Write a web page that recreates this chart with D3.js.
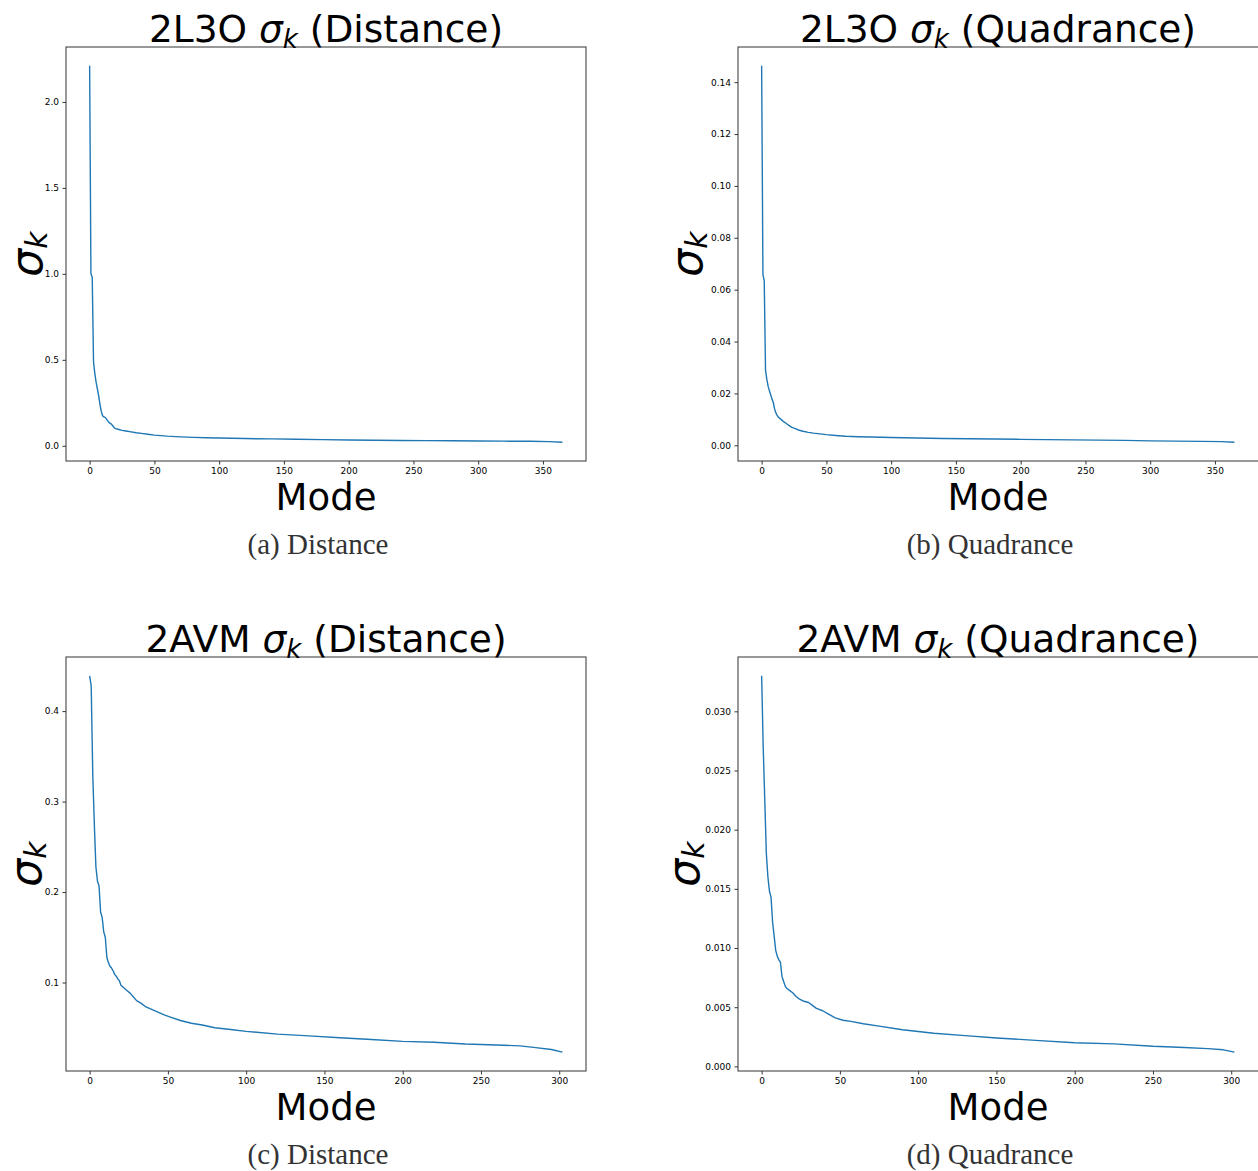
<!DOCTYPE html>
<html>
<head>
<meta charset="utf-8">
<script src="https://cdn.jsdelivr.net/npm/d3@7"></script>
<style>
  html, body { margin: 0; padding: 0; background: #fff; }
  svg { display: block; }
  .tick text { font-family: "DejaVu Sans", sans-serif; font-size: 9px; fill: #000; }
  .tick line { stroke: #000; stroke-width: 0.8; }
</style>
</head>
<body>
<svg id="chart" width="1258" height="1171"></svg>
<script>
// ---------- data ----------
const modesA = [0,1,2,3,4,5,6,7,8,9,10,11,12,13,14,15,16,17,18,19,20,22,25,28,32,36,40,45,50,55,60,70,80,90,100,120,140,160,180,200,220,240,260,280,300,320,340,355,365];
const valsA  = [2.21,1.00,0.98,0.49,0.42,0.37,0.33,0.29,0.24,0.20,0.175,0.168,0.165,0.155,0.145,0.135,0.13,0.125,0.115,0.105,0.100,0.096,0.090,0.086,0.081,0.076,0.072,0.067,0.062,0.059,0.056,0.052,0.049,0.047,0.045,0.042,0.040,0.038,0.036,0.034,0.032,0.031,0.030,0.029,0.028,0.027,0.026,0.024,0.021];

const modesB = [0,1,2,3,4,5,6,7,8,9,10,11,12,13,15,17,19,21,23,26,29,32,36,40,45,50,57,65,75,85,100,120,140,160,180,200,220,240,260,280,300,320,340,355,365];
const valsB  = [0.1463,0.0658,0.0635,0.0290,0.0255,0.0228,0.0210,0.0195,0.0178,0.0165,0.0140,0.0125,0.0115,0.0108,0.0100,0.0091,0.0084,0.0077,0.0070,0.0064,0.0058,0.0054,0.0050,0.0047,0.0044,0.0041,0.0038,0.0035,0.0033,0.0032,0.0030,0.0028,0.0026,0.0025,0.0024,0.0023,0.0022,0.0021,0.0020,0.0019,0.0017,0.0016,0.0015,0.0014,0.0012];

const modesC = [0,1,2,3,4,5,6,7,8,9,10,11,12,13,14,15,16,17,18,19,20,22,24,26,28,30,33,36,40,44,48,53,58,65,72,80,90,100,120,140,160,180,200,220,240,260,275,285,295,302];
const valsC  = [0.439,0.428,0.33,0.275,0.228,0.212,0.207,0.178,0.172,0.156,0.150,0.128,0.122,0.118,0.116,0.113,0.109,0.107,0.104,0.102,0.097,0.094,0.091,0.088,0.084,0.080,0.077,0.073,0.070,0.067,0.064,0.061,0.058,0.055,0.053,0.050,0.048,0.046,0.043,0.041,0.039,0.037,0.035,0.034,0.032,0.031,0.030,0.028,0.026,0.023];

const modesD = [0,1,2,3,4,5,6,7,8,9,10,11,12,13,14,15,16,18,20,22,24,27,30,32,35,39,43,47,52,57,65,75,90,110,130,150,175,200,225,250,270,285,295,302];
const valsD  = [0.0330,0.0270,0.0225,0.0180,0.0160,0.0148,0.0143,0.0122,0.0110,0.0098,0.0093,0.0090,0.0088,0.0076,0.0072,0.0068,0.0066,0.0064,0.0062,0.0059,0.0057,0.0055,0.0054,0.0052,0.0049,0.0047,0.0044,0.0041,0.0039,0.0038,0.0036,0.0034,0.0031,0.0028,0.0026,0.0024,0.0022,0.0020,0.0019,0.0017,0.0016,0.0015,0.0014,0.0012];

const xTicksTop    = [0,50,100,150,200,250,300,350];
const xTicksBottom = [0,50,100,150,200,250,300];
const yTicksA = [0.0,0.5,1.0,1.5,2.0];
const yTicksB = [0.00,0.02,0.04,0.06,0.08,0.10,0.12,0.14];
const yTicksC = [0.1,0.2,0.3,0.4];
const yTicksD = [0.000,0.005,0.010,0.015,0.020,0.025,0.030];

const titlesPrefix = ["2L3O ", "2L3O ", "2AVM ", "2AVM "];
const titlesSuffix = [" (Distance)", " (Quadrance)", " (Distance)", " (Quadrance)"];
const captions = ["(a) Distance", "(b) Quadrance", "(c) Distance", "(d) Quadrance"];
const xLabel = "Mode";

// ---------- layout ----------
const svg = d3.select("#chart");
svg.append("rect").attr("width", 1258).attr("height", 1171).attr("fill", "#fff");

const panels = [
  {modes: modesA, vals: valsA, xt: xTicksTop,    yt: yTicksA, fmt: d3.format(".1f"), x0: 66,  y0: 47,  yl: 42},
  {modes: modesB, vals: valsB, xt: xTicksTop,    yt: yTicksB, fmt: d3.format(".2f"), x0: 738, y0: 47,  yl: 702},
  {modes: modesC, vals: valsC, xt: xTicksBottom, yt: yTicksC, fmt: d3.format(".1f"), x0: 66,  y0: 657, yl: 41},
  {modes: modesD, vals: valsD, xt: xTicksBottom, yt: yTicksD, fmt: d3.format(".3f"), x0: 738, y0: 657, yl: 699}
];
const W = 520, H = 414;

function padded(arr) {
  const [lo, hi] = d3.extent(arr);
  const m = (hi - lo) * 0.05;
  return [lo - m, hi + m];
}

panels.forEach((p, i) => {
  const g = svg.append("g");
  const x = d3.scaleLinear().domain(padded(p.modes)).range([p.x0, p.x0 + W]);
  const y = d3.scaleLinear().domain(padded(p.vals)).range([p.y0 + H, p.y0]);

  // line
  const pts = p.modes.map((m, k) => [m, p.vals[k]]);
  g.append("path")
    .datum(pts)
    .attr("fill", "none")
    .attr("stroke", "#1f77b4")
    .attr("stroke-width", 1.4)
    .attr("stroke-linejoin", "round")
    .attr("d", d3.line().x(d => x(d[0])).y(d => y(d[1])));

  // axes
  const xa = g.append("g").attr("transform", `translate(0,${p.y0 + H})`)
    .call(d3.axisBottom(x).tickValues(p.xt).tickSize(3.5).tickPadding(3).tickFormat(d3.format("d")));
  xa.select(".domain").remove();
  const ya = g.append("g").attr("transform", `translate(${p.x0},0)`)
    .call(d3.axisLeft(y).tickValues(p.yt).tickSize(3.5).tickPadding(3.5).tickFormat(p.fmt));
  ya.select(".domain").remove();

  // frame (right-hand panels run past the picture's right edge, as in the reference)
  const fw = p.x0 > 400 ? W + 2 : W;
  g.append("rect")
    .attr("x", p.x0).attr("y", p.y0).attr("width", fw).attr("height", H)
    .attr("fill", "none").attr("stroke", "#333").attr("stroke-width", 1);

  const cx = p.x0 + W / 2;

  // title
  const t = g.append("text")
    .attr("x", cx).attr("y", p.y0 - 5)
    .attr("text-anchor", "middle")
    .attr("font-family", "DejaVu Sans, sans-serif")
    .attr("font-size", 37.5).attr("fill", "#000");
  t.append("tspan").text(titlesPrefix[i]);
  t.append("tspan").attr("font-style", "italic").text("σ");
  t.append("tspan").attr("font-style", "italic").attr("font-size", 26).attr("dy", 6).text("k");
  t.append("tspan").attr("dy", -6).text(titlesSuffix[i]);

  // x label
  g.append("text")
    .attr("x", cx).attr("y", p.y0 + H + 49)
    .attr("text-anchor", "middle")
    .attr("font-family", "DejaVu Sans, sans-serif")
    .attr("font-size", 37).attr("fill", "#000")
    .text(xLabel);

  // y label
  const yl = g.append("text")
    .attr("transform", `translate(${p.yl},${p.y0 + H / 2}) rotate(-90)`)
    .attr("text-anchor", "middle")
    .attr("font-family", "DejaVu Sans, sans-serif")
    .attr("font-size", 44).attr("fill", "#000");
  yl.append("tspan").attr("font-style", "italic").text("σ");
  yl.append("tspan").attr("font-style", "italic").attr("font-size", 30).attr("dy", 5).text("k");

  // caption
  g.append("text")
    .attr("x", cx - 8).attr("y", p.y0 + H + 93)
    .attr("text-anchor", "middle")
    .attr("font-family", "Liberation Serif, serif")
    .attr("font-size", 29).attr("fill", "#333")
    .text(captions[i]);
});
</script>
</body>
</html>
